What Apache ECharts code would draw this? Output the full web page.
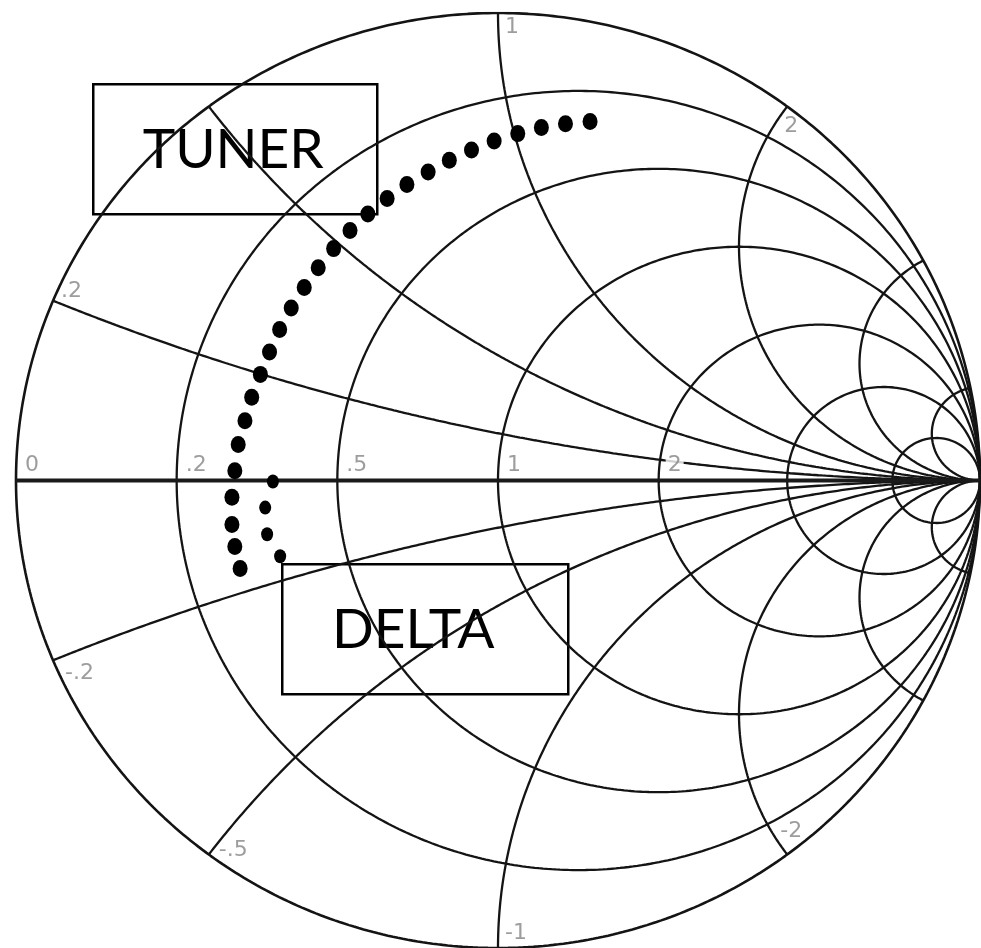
<!DOCTYPE html>
<html>
<head>
<meta charset="utf-8">
<script src="https://cdn.jsdelivr.net/npm/echarts@6/dist/echarts.min.js"></script>
<style>
html, body { margin: 0; padding: 0; background: #ffffff; }
#chart { width: 981px; height: 948px; }
</style>
</head>
<body>
<div id="chart"></div>
<script>
// Normalized resistance circles
const resistanceValues = [0, 0.2, 0.5, 1, 2, 4, 10];
// Normalized reactance arcs
const reactanceValues = [0.2, 0.5, 1, 2, 4, 10, -0.2, -0.5, -1, -2, -4, -10];

// Scale labels along the real axis
const axisLabelValues = [0, 0.2, 0.5, 1, 2];
const axisLabelTexts = ['0', '.2', '.5', '1', '2'];
// Scale labels on the rim (reactance)
const rimLabelValues = [0.2, 1, 2, -0.2, -0.5, -1, -2];
const rimLabelTexts = ['.2', '1', '2', '-.2', '-.5', '-1', '-2'];

// Reflection-coefficient traces (real part, imaginary part), lower end first
const tunerRe = [-0.535, -0.546, -0.552, -0.552, -0.546, -0.539, -0.525, -0.511, -0.493, -0.474, -0.453, -0.429, -0.402, -0.373, -0.341, -0.307, -0.270, -0.230, -0.189, -0.145, -0.101, -0.055, -0.008, 0.041, 0.090, 0.140, 0.191];
const tunerIm = [-0.188, -0.141, -0.094, -0.036, 0.021, 0.077, 0.128, 0.178, 0.227, 0.275, 0.323, 0.369, 0.413, 0.455, 0.496, 0.535, 0.570, 0.603, 0.633, 0.660, 0.685, 0.707, 0.726, 0.742, 0.755, 0.763, 0.768];
const deltaRe = [-0.467, -0.483, -0.479, -0.452];
const deltaIm = [-0.002, -0.058, -0.115, -0.162];

// z = a + jb  ->  Gamma = (z - 1) / (z + 1)
function gamma(a, b) {
  const d = (a + 1) * (a + 1) + b * b;
  return [(a * a - 1 + b * b) / d, (2 * b) / d];
}

const N = 600;
function resistanceCurve(r) {
  const pts = [];
  for (let i = 0; i <= N; i++) {
    const phi = -Math.PI / 2 + (Math.PI * i) / N;
    const x = Math.abs(Math.abs(phi) - Math.PI / 2) < 1e-9 ? Math.sign(phi) * 1e9 : Math.tan(phi);
    pts.push(gamma(r, x));
  }
  return pts;
}
function reactanceCurve(x) {
  const pts = [];
  for (let i = 0; i <= N; i++) {
    const th = (Math.PI / 2) * i / N;
    const r = i === N ? 1e9 : Math.tan(th);
    pts.push(gamma(r, x));
  }
  return pts;
}

const gridColor = '#141414';
const series = [];

resistanceValues.forEach(function (r) {
  series.push({
    type: 'line', data: resistanceCurve(r), showSymbol: false, silent: true,
    z: 1, lineStyle: { color: gridColor, width: r === 0 ? 2.6 : 2.3 }
  });
});
reactanceValues.forEach(function (x) {
  series.push({
    type: 'line', data: reactanceCurve(x), showSymbol: false, silent: true,
    z: 1, lineStyle: { color: gridColor, width: 2.3 }
  });
});
// Real axis
series.push({
  type: 'line', data: [[-1, 0], [1, 0]], showSymbol: false, silent: true, z: 2,
  lineStyle: { color: '#1a1a1a', width: 4 }
});

// Scale labels
const labelStyle = {
  color: '#858585', fontFamily: 'DejaVu Sans', fontSize: 22, fontWeight: 'normal'
};
const axisLabelData = axisLabelValues.map(function (r, i) {
  return {
    value: gamma(r, 0),
    label: {
      show: true, formatter: axisLabelTexts[i], position: 'inside',
      align: 'left', verticalAlign: 'bottom', offset: [7, -4],
      backgroundColor: axisLabelTexts[i] === '2' ? '#ffffff' : 'transparent',
      padding: [0, 2, 0, 2]
    }
  };
});
const rimOffsets = {
  '.2': [['left', 'bottom'], [8, 2]],
  '1': [['left', 'top'], [7, 3]],
  '2': [['left', 'top'], [-3, 9]],
  '-.2': [['left', 'top'], [12, 2]],
  '-.5': [['left', 'middle'], [10, -4]],
  '-1': [['left', 'bottom'], [7, -4]],
  '-2': [['left', 'bottom'], [-7, -12]]
};
const rimLabelData = rimLabelValues.map(function (x, i) {
  const t = rimLabelTexts[i];
  const o = rimOffsets[t];
  return {
    value: gamma(0, x),
    label: {
      show: true, formatter: t, position: 'inside',
      align: o[0][0], verticalAlign: o[0][1], offset: o[1]
    }
  };
});
series.push({
  type: 'scatter', symbolSize: 0, silent: true, z: 3,
  data: axisLabelData.concat(rimLabelData),
  label: labelStyle
});

// Dotted traces
series.push({
  type: 'scatter', name: 'TUNER', z: 20, zlevel: 1, symbol: 'circle', symbolSize: [15, 17],
  itemStyle: { color: '#000000', opacity: 1 },
  data: tunerRe.map(function (v, i) { return [v, tunerIm[i]]; })
});
series.push({
  type: 'scatter', name: 'DELTA', z: 20, zlevel: 1, symbol: 'circle', symbolSize: [12, 14],
  itemStyle: { color: '#000000', opacity: 1 },
  data: deltaRe.map(function (v, i) { return [v, deltaIm[i]]; })
});

const chart = echarts.init(document.getElementById('chart'), null, { renderer: 'canvas' });
chart.setOption({
  backgroundColor: '#ffffff',
  animation: false,
  grid: { left: 16, top: 13, width: 964, height: 938 },
  xAxis: { type: 'value', min: -1, max: 1, show: false },
  yAxis: { type: 'value', min: -1, max: 1, show: false },
  series: series,
  graphic: [
    {
      type: 'group', left: 92, top: 83, z: 10,
      children: [
        { type: 'rect', shape: { x: 0, y: 0, width: 284, height: 130 },
          style: { fill: '#ffffff', stroke: '#000000', lineWidth: 2.5 } },
        { type: 'text', x: 140, y: 66,
          style: { text: 'TUNER', fill: '#000000', font: '55px Lato', align: 'center', verticalAlign: 'middle' } }
      ]
    },
    {
      type: 'group', left: 281, top: 563, z: 10,
      children: [
        { type: 'rect', shape: { x: 0, y: 0, width: 286, height: 130 },
          style: { fill: '#ffffff', stroke: '#000000', lineWidth: 2.5 } },
        { type: 'text', x: 131, y: 66,
          style: { text: 'DELTA', fill: '#000000', font: '55px Lato', align: 'center', verticalAlign: 'middle' } }
      ]
    }
  ]
});
</script>
</body>
</html>
